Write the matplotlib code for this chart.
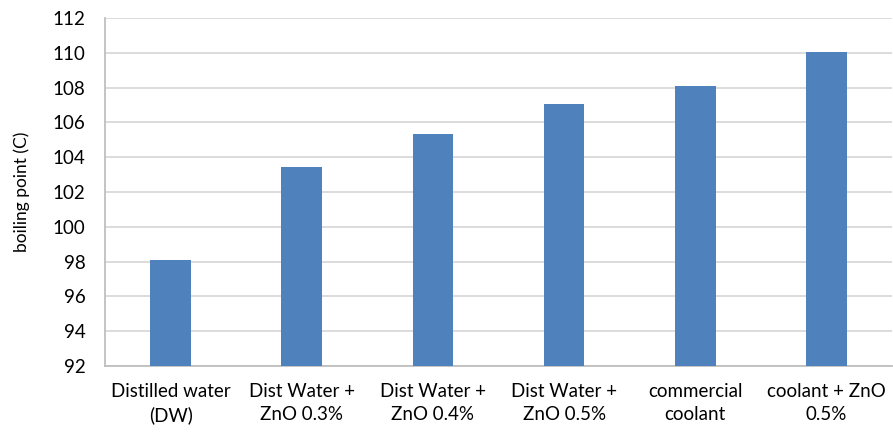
import matplotlib
matplotlib.use("Agg")
import matplotlib.pyplot as plt

categories = ["Distilled water\n(DW)", "Dist Water +\nZnO 0.3%", "Dist Water +\nZnO 0.4%",
              "Dist Water +\nZnO 0.5%", "commercial\ncoolant", "coolant + ZnO\n0.5%"]
values = [98.1, 103.45, 105.35, 107.05, 108.08, 110.05]
yticks = [92, 94, 96, 98, 100, 102, 104, 106, 108, 110, 112]

plt.rcParams['font.family'] = ['Lato', 'DejaVu Sans']
fig = plt.figure(figsize=(8.93, 4.32), dpi=100)
ax = fig.add_axes([105/893, (432-366)/432, (892-105)/893, (366-18)/432])
x = list(range(len(categories)))
ax.bar(x, values, width=0.31, color="#4F81BD", zorder=3, bottom=0)
ax.set_ylim(92, 112)
ax.set_xlim(-0.5, len(categories)-0.5)
ax.set_yticks(yticks)
ax.set_xticks(x)
ax.set_xticklabels(categories, fontsize=13.5, color="#000000", linespacing=1.45)
ax.tick_params(axis='y', labelsize=13.5, length=0, pad=14)
ax.tick_params(axis='x', length=0, pad=12)
ax.yaxis.grid(True, color="#D9D9D9", linewidth=1.3, zorder=0)
ax.set_axisbelow(True)
for s in ["top", "right"]:
    ax.spines[s].set_visible(False)
ax.spines["left"].set_color("#BFBFBF")
ax.spines["bottom"].set_color("#BFBFBF")
ax.spines["left"].set_linewidth(1.3)
ax.spines["bottom"].set_linewidth(1.3)
ax.set_ylabel("boiling point (C)", fontsize=12.5, labelpad=16)
fig.savefig("out.png", dpi=100)
